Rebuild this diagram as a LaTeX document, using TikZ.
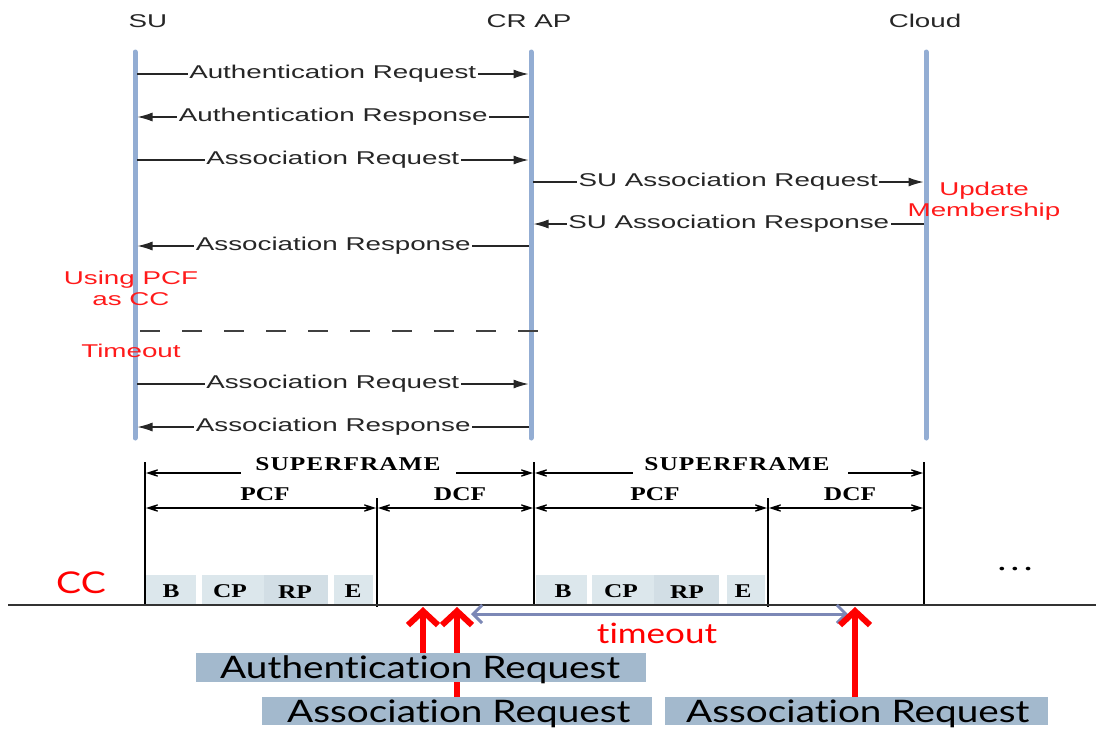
\documentclass[tikz,border=0pt]{standalone}
\usepackage{fontspec}
\usetikzlibrary{arrows.meta}
\newfontfamily\arialx[FakeStretch=1.5]{Liberation Sans}
\newfontfamily\timesx[FakeStretch=1.3]{Liberation Serif}
\newfontfamily\gillx[FakeStretch=1.25,Ligatures=NoCommon]{Lato}
\definecolor{lifeblue}{HTML}{93ADD3}
\definecolor{cellA}{HTML}{DCE7EC}
\definecolor{cellB}{HTML}{D2DEE5}
\definecolor{tagblue}{HTML}{A3B9CD}
\definecolor{toblue}{HTML}{7C88B6}
\definecolor{redtxt}{HTML}{FF1A1A}
\begin{document}
\begin{tikzpicture}[x=1pt,y=-1pt,
  lifeline/.style={line width=5pt, lifeblue, line cap=round},
  msg/.style={line width=1.1pt, black!85, -{Latex[length=15pt,width=9pt]}},
  msgtxt/.style={fill=white, inner sep=1.5pt, text=black!85, font=\arialx\fontsize{18.5}{20}\selectfont},
  headtxt/.style={inner sep=0pt, anchor=base, text=black!85, font=\arialx\fontsize{18.5}{20}\selectfont},
  notetxt/.style={inner sep=0pt, align=center, text=redtxt, font=\arialx\fontsize{18.5}{21}\selectfont},
  sfline/.style={line width=1.2pt, black},
  dimarrow/.style={line width=1.1pt, {Stealth[length=17pt,width=11pt,inset=10pt]}-{Stealth[length=17pt,width=11pt,inset=10pt]}},
  leftdim/.style={line width=1.1pt, {Stealth[length=17pt,width=11pt,inset=10pt]}-},
  rightdim/.style={line width=1.1pt, -{Stealth[length=17pt,width=11pt,inset=10pt]}},
  dimlbl/.style={inner sep=0pt, anchor=base, font=\timesx\bfseries\fontsize{19.5}{20}\selectfont},
  reqarrow/.style={line width=6pt, red, -{Straight Barb[length=14pt,width=30pt]}},
  toarrow/.style={line width=3pt, toblue, {Straight Barb[length=9pt,width=18pt]}-{Straight Barb[length=9pt,width=18pt]}},
  tagtxt/.style={inner sep=0pt, anchor=base west, font=\gillx\fontsize{31}{32}\selectfont}
]
\useasboundingbox (0,0) rectangle (1096,729);

% ---------- headers ----------
\node[headtxt] (hsu) at (148,27) {SU};
\node[headtxt] (hap) at (529,27) {CR AP};
\node[headtxt] (hcl) at (925,27) {Cloud};

% ---------- lifelines ----------
\coordinate (sut) at (135,52); \coordinate (sub) at (135,438);
\coordinate (apt) at (531,52); \coordinate (apb) at (531,438);
\coordinate (clt) at (926,52); \coordinate (clb) at (926,438);
\draw[lifeline] (sut) -- (sub);
\draw[lifeline] (apt) -- (apb);
\draw[lifeline] (clt) -- (clb);

% ---------- messages ----------
\coordinate (s1) at (137,74);  \coordinate (a1) at (528.5,74);
\coordinate (s2) at (137.5,117); \coordinate (a2) at (529,117);
\coordinate (s3) at (137,160); \coordinate (a3) at (528.5,160);
\coordinate (a4) at (533,182); \coordinate (c4) at (923.5,182);
\coordinate (a5) at (533.5,224); \coordinate (c5) at (924,224);
\coordinate (s6) at (137.5,246); \coordinate (a6) at (529,246);
\coordinate (s7) at (137,384); \coordinate (a7) at (528.5,384);
\coordinate (s8) at (137.5,427); \coordinate (a8) at (529,427);

\draw[msg] (s1) -- (a1) node[msgtxt, pos=0.5] (m1) {Authentication Request};
\draw[msg] (a2) -- (s2) node[msgtxt, pos=0.5] (m2) {Authentication Response};
\draw[msg] (s3) -- (a3) node[msgtxt, pos=0.5] (m3) {Association Request};
\draw[msg] (a4) -- (c4) node[msgtxt, pos=0.5] (m4) {SU Association Request};
\draw[msg] (c5) -- (a5) node[msgtxt, pos=0.5] (m5) {SU Association Response};
\draw[msg] (a6) -- (s6) node[msgtxt, pos=0.5] (m6) {Association Response};
\draw[msg] (s7) -- (a7) node[msgtxt, pos=0.5] (m7) {Association Request};
\draw[msg] (a8) -- (s8) node[msgtxt, pos=0.5] (m8) {Association Response};

% ---------- notes ----------
\node[notetxt] (upd) at (984,201) {Update\\Membership};
\node[notetxt] (pcfcc) at (131,288) {Using PCF\\as CC};
\node[notetxt] (tmo) at (131,351) {Timeout};
\coordinate (dl) at (140,331); \coordinate (dr) at (538,331);
\draw[line width=1.3pt, black!75, dash pattern=on 20pt off 22pt] (dl) -- (dr);

% ---------- superframe cells ----------
\fill[cellA] (145,575) rectangle (196,605);
\fill[cellA] (202,575) rectangle (264,605);
\fill[cellB] (264,575) rectangle (328,605);
\fill[cellA] (334,575) rectangle (373,605);
\fill[cellA] (536,575) rectangle (587,605);
\fill[cellA] (592,575) rectangle (654,605);
\fill[cellB] (654,575) rectangle (719,605);
\fill[cellA] (727,575) rectangle (765,605);
\node[dimlbl] (b1) at (171,597) {B};
\node[dimlbl] (cp1) at (230,597) {CP};
\node[dimlbl] (rp1) at (295,598) {RP};
\node[dimlbl] (e1) at (353,597) {E};
\node[dimlbl] (b2) at (563,597) {B};
\node[dimlbl] (cp2) at (621,597) {CP};
\node[dimlbl] (rp2) at (687,598) {RP};
\node[dimlbl] (e2) at (743,597) {E};

% ---------- superframe boundaries ----------
\coordinate (v1t) at (145,462); \coordinate (v1b) at (145,606);
\coordinate (v2t) at (534,462); \coordinate (v2b) at (534,606);
\coordinate (v3t) at (924,462); \coordinate (v3b) at (924,606);
\coordinate (p1t) at (377,498); \coordinate (p1b) at (377,607);
\coordinate (p2t) at (768,498); \coordinate (p2b) at (768,607);
\draw[sfline] (v1t) -- (v1b);
\draw[sfline] (v2t) -- (v2b);
\draw[sfline] (v3t) -- (v3b);
\draw[sfline] (p1t) -- (p1b);
\draw[sfline] (p2t) -- (p2b);

% SUPERFRAME dimension lines
\node[dimlbl] (sf1) at (348,470) {S\kern1ptU\kern1ptP\kern1ptE\kern1ptR\kern1ptF\kern1ptR\kern1ptA\kern1ptM\kern1ptE};
\node[dimlbl] (sf2) at (737,470) {S\kern1ptU\kern1ptP\kern1ptE\kern1ptR\kern1ptF\kern1ptR\kern1ptA\kern1ptM\kern1ptE};
\coordinate (sf1a) at (146,473); \coordinate (sf1b) at (241,473);
\coordinate (sf1c) at (456,473); \coordinate (sf1d) at (533,473);
\coordinate (sf2a) at (535,473); \coordinate (sf2b) at (633,473);
\coordinate (sf2c) at (848,473); \coordinate (sf2d) at (923,473);
\draw[leftdim] (sf1a) -- (sf1b);
\draw[rightdim] (sf1c) -- (sf1d);
\draw[leftdim] (sf2a) -- (sf2b);
\draw[rightdim] (sf2c) -- (sf2d);

% PCF / DCF dimension lines
\node[dimlbl] (pcf1) at (265,500) {PCF};
\node[dimlbl] (dcf1) at (460,500) {DCF};
\node[dimlbl] (pcf2) at (655,500) {PCF};
\node[dimlbl] (dcf2) at (850,500) {DCF};
\coordinate (d1a) at (146,508); \coordinate (d1b) at (376,508);
\coordinate (d2a) at (378,508); \coordinate (d2b) at (533,508);
\coordinate (d3a) at (535,508); \coordinate (d3b) at (767,508);
\coordinate (d4a) at (769,508); \coordinate (d4b) at (923,508);
\draw[dimarrow] (d1a) -- (d1b);
\draw[dimarrow] (d2a) -- (d2b);
\draw[dimarrow] (d3a) -- (d3b);
\draw[dimarrow] (d4a) -- (d4b);

\node[inner sep=0pt, anchor=base, font=\timesx\bfseries\fontsize{22}{22}\selectfont] (more) at (1015,570) {.\kern6pt.\kern6pt.};

% ---------- channel baseline ----------
\node[inner sep=0pt, anchor=base, text=red, font=\gillx\fontsize{30}{30}\selectfont] (cc) at (81,593) {CC};
\coordinate (bl) at (8,605); \coordinate (br) at (1096,605);
\draw[line width=1.2pt, black!80] (bl) -- (br);

% ---------- timeout ----------
\coordinate (tl) at (471,614); \coordinate (tr) at (848,614);
\draw[toarrow] (tl) -- (tr);
\node[inner sep=0pt, anchor=base, text=red, font=\gillx\fontsize{28}{28}\selectfont] (tout) at (657,643) {timeout};

% ---------- requests on channel ----------
\coordinate (r1b) at (423,655); \coordinate (r1t) at (423,607);
\coordinate (r2b) at (457,697); \coordinate (r2t) at (457,607);
\coordinate (r3b) at (855,697); \coordinate (r3t) at (855,607);
\draw[reqarrow] (r1b) -- (r1t);
\draw[reqarrow] (r2b) -- (r2t);
\draw[reqarrow] (r3b) -- (r3t);

\fill[tagblue] (196,653) rectangle (646,682);
\fill[tagblue] (262,697) rectangle (652,725);
\fill[tagblue] (665,697) rectangle (1048,725);
\node[tagtxt] (t1) at (220,678) {Authentication Request};
\node[tagtxt] (t2) at (287,722) {Association Request};
\node[tagtxt] (t3) at (686,722) {Association Request};
\end{tikzpicture}
\end{document}
